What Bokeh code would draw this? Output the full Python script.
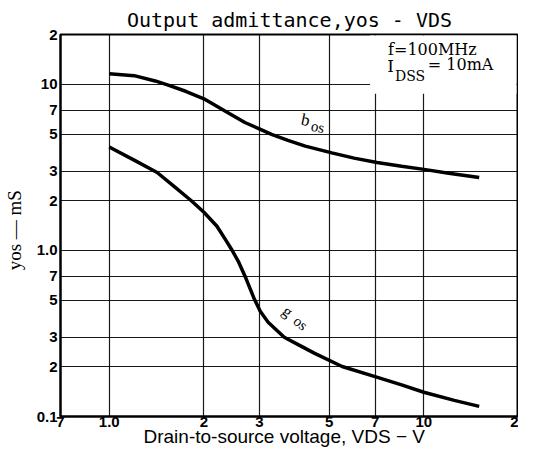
from bokeh.plotting import figure
from bokeh.models import Range1d, FixedTicker, Label, BoxAnnotation
from bokeh.embed import file_html
from bokeh.resources import INLINE

# ---- data ----
vds_b = [1.0, 1.2, 1.4, 1.54, 1.75, 2.0, 2.34, 2.7, 3.0, 3.28, 3.7, 4.2, 5.1, 6.0, 7.1, 8.5, 10.0, 12.0, 15.0]
b_os = [11.6, 11.3, 10.5, 9.9, 9.1, 8.2, 6.9, 5.9, 5.4, 5.0, 4.6, 4.25, 3.87, 3.6, 3.39, 3.22, 3.08, 2.92, 2.75]

vds_g = [1.0, 1.2, 1.42, 1.6, 1.82, 2.0, 2.2, 2.35, 2.46, 2.58, 2.72, 2.88, 3.02, 3.2, 3.6, 4.0, 4.5, 5.5, 7.0, 8.5, 10.0, 12.5, 15.0]
g_os = [4.2, 3.5, 2.95, 2.45, 2.0, 1.7, 1.4, 1.15, 1.0, 0.85, 0.68, 0.52, 0.43, 0.37, 0.3, 0.27, 0.24, 0.2, 0.174, 0.155, 0.14, 0.125, 0.115]

x_ticks = [0.7, 1.0, 2.0, 3.0, 5.0, 7.0, 10.0, 20.0]
x_labels = ["7", "1.0", "2", "3", "5", "7", "10", "2"]
y_ticks = [0.1, 0.2, 0.3, 0.5, 0.7, 1.0, 2.0, 3.0, 5.0, 7.0, 10.0, 20.0]
y_labels = ["0.1", "2", "3", "5", "7", "1.0", "2", "3", "5", "7", "10", "2"]

title_text = "Output admittance,yos - VDS"
x_title = "Drain-to-source voltage, VDS  \u2212  V"
y_title = "yos  \u2014  mS"

p = figure(width=518, height=454, x_axis_type="log", y_axis_type="log",
           x_range=Range1d(0.7, 20), y_range=Range1d(0.1, 20),
           output_backend="svg", toolbar_location=None,
           min_border_left=55, min_border_right=0, min_border_top=34, min_border_bottom=38,
           title=title_text)

p.title.text_font = "DejaVu Sans Mono"
p.title.text_font_size = "20px"
p.title.text_font_style = "normal"
p.title.text_color = "black"
p.title.align = "center"
p.title.standoff = 6

p.background_fill_color = "white"
p.border_fill_color = "white"
p.outline_line_color = "black"
p.outline_line_width = 2

for ax, ticks, labels in ((p.xaxis[0], x_ticks, x_labels), (p.yaxis[0], y_ticks, y_labels)):
    ax.ticker = FixedTicker(ticks=ticks, minor_ticks=[])
    ax.major_label_overrides = {t: l for t, l in zip(ticks, labels)}
    ax.major_label_text_font = "Liberation Sans"
    ax.major_label_text_font_style = "bold"
    ax.major_label_text_font_size = "15px"
    ax.major_label_text_color = "black"
    ax.major_tick_in = 0
    ax.major_tick_out = 0
    ax.minor_tick_in = 0
    ax.minor_tick_out = 0
    ax.axis_line_color = "black"
    ax.axis_line_width = 2

p.xaxis.major_label_standoff = 0
p.yaxis.major_label_standoff = 3

p.xaxis.axis_label = x_title
p.xaxis.axis_label_text_font = "Liberation Sans"
p.xaxis.axis_label_text_font_style = "normal"
p.xaxis.axis_label_text_font_size = "19px"
p.xaxis.axis_label_text_color = "black"
p.xaxis.axis_label_standoff = -4

p.yaxis.axis_label = y_title
p.yaxis.axis_label_text_font = "Liberation Serif"
p.yaxis.axis_label_text_font_style = "normal"
p.yaxis.axis_label_text_font_size = "19px"
p.yaxis.axis_label_text_color = "black"
p.yaxis.axis_label_standoff = 9

p.xgrid.ticker = FixedTicker(ticks=x_ticks[1:-1], minor_ticks=[])
p.ygrid.ticker = FixedTicker(ticks=y_ticks[1:-1], minor_ticks=[])
for g in (p.xgrid[0], p.ygrid[0]):
    g.grid_line_color = "black"
    g.grid_line_width = 1.2
    g.grid_line_alpha = 0.9

# blank area behind the condition text (grid is interrupted there)
p.add_layout(BoxAnnotation(left=6.75, right=19.7, bottom=8.8, top=19.7,
                           fill_color="white", fill_alpha=1.0, line_alpha=0, level="underlay"))

p.line(vds_b, b_os, line_color="black", line_width=3.5)
p.line(vds_g, g_os, line_color="black", line_width=3.5)

serif = "DejaVu Serif"
labels = [
    dict(x=7.7, y=16.3, text="f=100MHz", size="16px", font=serif, align="left", angle=0),
    dict(x=7.65, y=12.9, text="I", size="17px", font=serif, align="left", angle=0),
    dict(x=8.1, y=11.3, text="DSS", size="14px", font=serif, align="left", angle=0),
    dict(x=10.3, y=13.2, text="= 10mA", size="16px", font=serif, align="left", angle=0),
    dict(x=4.21, y=6.1, text="b", size="17px", font="Liberation Serif", align="center", angle=-12),
    dict(x=4.6, y=5.55, text="os", size="15px", font="Liberation Serif", align="center", angle=-12),
    dict(x=3.7, y=0.43, text="g", size="16px", font="Liberation Serif", align="center", angle=-40),
    dict(x=4.06, y=0.365, text="os", size="15px", font="Liberation Serif", align="center", angle=-40),
]
for d in labels:
    p.add_layout(Label(x=d["x"], y=d["y"], text=d["text"], text_font=d["font"],
                       text_font_size=d["size"], text_align=d["align"],
                       text_baseline="middle", angle=d["angle"], angle_units="deg",
                       text_color="black"))

open("out.html", "w").write(file_html(p, INLINE))
